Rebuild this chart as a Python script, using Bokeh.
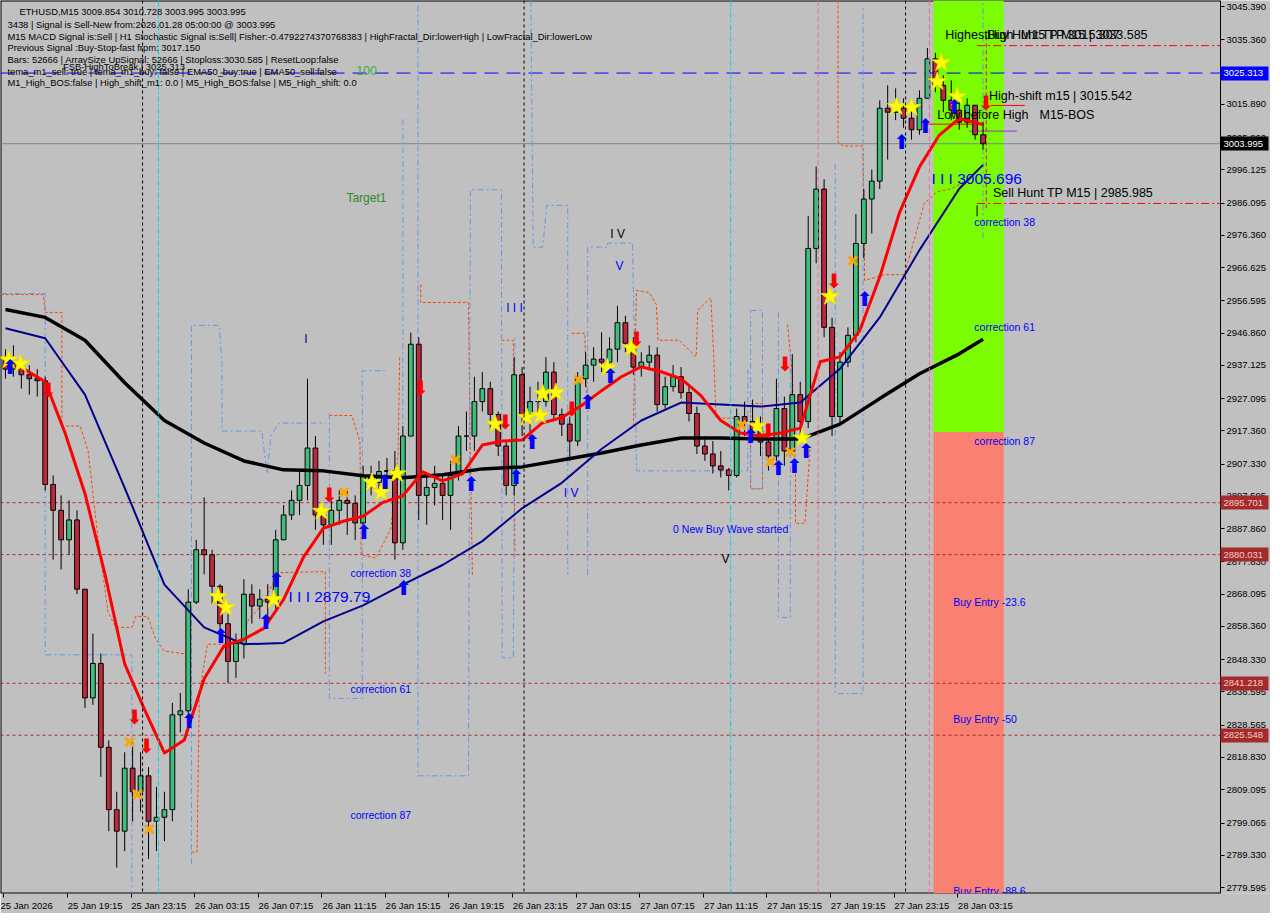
from bokeh.plotting import figure
from bokeh.models import (Range1d, FixedTicker, NumeralTickFormatter, Label, ColumnDataSource, Span,
                          LinearAxis)
from bokeh.core.properties import value
from bokeh.embed import file_html
from bokeh.resources import INLINE

FONT = "Liberation Sans"

# ---------------- data ----------------
first_open = 2939.0
closes = [
    2936.0, 2937.8, 2934.3, 2933.1, 2932.5, 2901.2, 2893.4, 2884.5, 2890.5, 2869.6,
    2836.8, 2847.2, 2821.9, 2803.1, 2796.6, 2815.6, 2808.5, 2813.3, 2799.6, 2800.8,
    2803.1, 2831.7, 2832.9, 2865.7, 2881.5, 2880.0, 2870.5, 2859.2, 2847.8, 2853.2,
    2868.1, 2864.5, 2866.6, 2865.7, 2884.5, 2892.0, 2896.4, 2900.9, 2912.2, 2892.0,
    2889.0, 2893.4, 2896.4, 2895.5, 2889.6, 2903.9, 2901.8, 2905.1, 2905.4, 2883.6,
    2915.8, 2943.5, 2897.9, 2900.3, 2901.5, 2897.9, 2903.9, 2915.8, 2915.8, 2926.2,
    2930.1, 2922.3, 2912.8, 2900.9, 2934.3, 2922.3, 2926.2, 2926.2, 2935.1, 2922.3,
    2919.4, 2914.3, 2933.1, 2937.2, 2939.0, 2938.1, 2942.0, 2950.0, 2943.8, 2936.6,
    2938.1, 2940.2, 2925.3, 2930.7, 2933.7, 2928.9, 2922.6, 2912.8, 2910.4, 2906.8,
    2905.6, 2903.9, 2921.7, 2920.2, 2917.3, 2914.0, 2909.8, 2924.1, 2911.3, 2928.3,
    2920.2, 2972.4, 2990.3, 2948.6, 2921.7, 2938.1, 2946.2, 2973.9, 2987.3, 2992.7,
    3014.7, 3013.5, 3014.7, 3011.7, 3008.2, 3017.7, 3029.6, 3021.6, 3017.1, 3014.1,
    3010.5, 3015.6, 3006.7, 3003.995]
highs = [
    2942.0, 2943.2, 2939.6, 2937.2, 2936.0, 2933.7, 2903.9, 2897.9, 2896.4, 2893.4,
    2869.6, 2856.2, 2850.2, 2824.0, 2808.5, 2820.4, 2823.4, 2820.4, 2815.9, 2810.0,
    2808.5, 2835.3, 2838.3, 2869.6, 2884.5, 2897.3, 2881.5, 2871.1, 2862.1, 2856.2,
    2872.6, 2871.1, 2869.6, 2871.1, 2887.5, 2895.0, 2899.4, 2905.4, 2933.1, 2915.8,
    2893.4, 2896.4, 2899.4, 2899.4, 2897.9, 2906.8, 2906.8, 2908.3, 2909.2, 2911.3,
    2918.8, 2947.0, 2945.6, 2903.9, 2906.8, 2903.9, 2908.3, 2918.8, 2923.2, 2933.7,
    2935.1, 2932.2, 2923.2, 2914.3, 2939.6, 2936.6, 2930.7, 2932.2, 2939.6, 2938.1,
    2924.1, 2921.7, 2935.1, 2941.1, 2942.6, 2947.1, 2945.6, 2955.1, 2952.1, 2945.6,
    2941.1, 2943.2, 2942.6, 2933.7, 2937.2, 2936.6, 2930.7, 2924.7, 2915.8, 2914.3,
    2911.3, 2906.2, 2924.1, 2926.2, 2926.8, 2921.7, 2915.8, 2933.1, 2927.7, 2940.5,
    2932.2, 2982.2, 2997.1, 2993.3, 2951.5, 2941.1, 2948.6, 2982.8, 2990.3, 2996.2,
    3017.1, 3021.6, 3020.7, 3017.7, 3014.7, 3020.1, 3032.9, 3031.4, 3024.6, 3023.1,
    3017.1, 3017.7, 3015.6, 3010.5]
lows = [
    2933.1, 2933.7, 2930.1, 2928.3, 2927.7, 2899.4, 2878.5, 2875.6, 2880.0, 2868.1,
    2833.8, 2834.7, 2813.0, 2796.6, 2785.6, 2790.6, 2799.6, 2802.5, 2788.2, 2790.6,
    2793.6, 2799.6, 2826.4, 2830.9, 2865.1, 2874.1, 2865.1, 2854.7, 2841.3, 2842.8,
    2848.7, 2859.2, 2860.7, 2860.7, 2863.6, 2884.5, 2890.5, 2892.0, 2896.4, 2887.5,
    2883.0, 2883.0, 2889.0, 2886.0, 2884.5, 2887.5, 2897.9, 2897.9, 2899.4, 2878.5,
    2881.5, 2915.8, 2890.5, 2889.0, 2894.9, 2890.5, 2887.5, 2902.4, 2911.3, 2911.3,
    2923.2, 2917.3, 2909.8, 2897.9, 2897.9, 2915.8, 2914.3, 2921.7, 2924.7, 2920.2,
    2915.8, 2908.3, 2912.8, 2930.7, 2932.2, 2935.1, 2936.0, 2938.1, 2941.1, 2934.3,
    2933.7, 2936.0, 2923.2, 2924.1, 2929.2, 2927.1, 2920.2, 2910.4, 2908.3, 2904.5,
    2903.3, 2899.4, 2903.3, 2915.8, 2914.3, 2909.8, 2905.4, 2908.3, 2906.8, 2911.3,
    2915.8, 2918.2, 2967.9, 2945.6, 2915.8, 2919.4, 2936.6, 2944.1, 2969.4, 2976.9,
    2990.3, 2999.2, 3011.1, 3008.8, 3005.2, 3006.7, 3017.7, 3019.5, 3013.5, 3011.1,
    3008.2, 3008.8, 3005.2, 3002.2]

ema_idx = [0, 5, 10, 15, 20, 25, 30, 35, 40, 45, 50, 55, 60, 65, 70, 75, 80, 85,
           90, 95, 100, 105, 110, 115, 120, 123]
ema_black = [2954.0, 2951.6, 2944.7, 2931.9, 2920.5, 2913.7, 2908.3, 2905.6, 2905.3,
             2903.8, 2903.2, 2904.1, 2905.9, 2906.5, 2908.6, 2910.7, 2913.1, 2915.2,
             2915.2, 2914.9, 2914.9, 2919.4, 2927.1, 2934.6, 2940.6, 2945.0]
ema_navy = [2948.3, 2945.3, 2928.3, 2900.2, 2871.0, 2858.1, 2853.0, 2853.4, 2859.9,
            2864.7, 2871.0, 2876.9, 2884.1, 2894.0, 2901.7, 2911.9, 2920.5, 2925.9,
            2925.3, 2924.7, 2925.9, 2936.1, 2951.6, 2971.9, 2990.4, 2997.6]
red_idx = [0, 2.5, 5, 7.5, 10, 12.5, 15, 17.5, 20, 22.5, 25, 27.5, 30, 32.5, 35, 37.5, 40,
           42.5, 45, 47.5, 50, 52.5, 55, 57.5, 60, 62.5, 65, 67.5, 70, 72.5, 75, 77.5, 80,
           82.5, 85, 87.5, 90, 92.5, 95, 97.5, 100, 102.5, 105, 107.5, 110, 112.5, 115,
           117.5, 120, 123]
ema_red = [2938.8, 2935.8, 2932.2, 2916.7, 2898.5, 2874.3, 2847.1, 2833.3, 2820.2, 2824.1,
           2842.6, 2852.5, 2854.5, 2857.8, 2866.5, 2879.3, 2888.0, 2890.1, 2891.6, 2895.8,
           2897.8, 2905.0, 2902.3, 2904.4, 2913.1, 2914.3, 2914.6, 2919.7, 2921.4, 2925.0,
           2929.5, 2933.7, 2936.7, 2935.2, 2933.1, 2928.0, 2920.5, 2916.7, 2915.8, 2916.7,
           2918.2, 2938.2, 2939.7, 2947.7, 2963.8, 2983.3, 2997.0, 3006.6, 3011.6, 3009.8]

# orange / blue step envelopes: [bar, price] pairs
orange_paths = [
    [(-0.6, 2958.5), (4.75, 2958.5), (5, 2953.1), (7.1, 2953.1), (7.1, 2918.8), (9.4, 2918.8),
     (10.4, 2911.3), (11.6, 2885.9), (12.9, 2862.6), (13.9, 2858.1), (15.9, 2858.1),
     (16.4, 2861.4), (17.9, 2861.4), (18.9, 2854.5), (20, 2850.9), (22.9, 2850.0)],
    [(23.4, 2790.3), (24.1, 2790.3), (24.4, 2838.1), (25.4, 2853.0), (29.4, 2853.0),
     (30.6, 2860.5), (32.1, 2864.4), (34.4, 2874.6), (40.25, 2874.9), (40.25, 2844.1)],
    [(40.75, 2922.0), (43.6, 2922.0), (44.6, 2914.0), (44.75, 2879.9), (46.6, 2879.0),
     (48.5, 2887.9), (49.4, 2910.7), (49.6, 2939.7)],
    [(52.25, 2961.5), (52.25, 2956.1), (58.25, 2956.1), (58.5, 2908.9), (58.75, 2873.9)],
    [(62.4, 2944.7), (63.9, 2944.7), (64.1, 2879.3)],
    [(71.25, 2946.8), (72.9, 2946.8), (73.1, 2927.7)],
    [(79, 2918.8), (79.4, 2959.7), (81, 2959.1), (81.9, 2955.5), (82.1, 2944.7),
     (84.75, 2944.7), (86.9, 2939.7), (87.1, 2953.7), (88.75, 2957.6), (89.1, 2940.9),
     (89.4, 2921.2), (92.75, 2921.2)],
    [(93.75, 2925.6), (95.25, 2925.6), (95.25, 2899.9), (93.75, 2899.9), (93.75, 2925.6)],
    [(98.4, 2949.5), (99, 2934.6), (99.4, 2904.7), (99.4, 2889.5), (100.6, 2889.5),
     (101.25, 2912.8)],
    [(104.75, 3047.2), (104.75, 3004.5), (105.4, 3003.3), (107.9, 3003.3), (108.1, 2962.7),
     (110.6, 2964.5), (113.1, 2964.5), (114.4, 2975.5), (115.6, 2986.0), (117.25, 2989.5),
     (119, 2990.4), (121, 2993.0)],
]
blue_paths = [
    [(-0.6, 2958.8), (5, 2958.8), (5, 2849.8), (15.9, 2849.8), (15.9, 2777.8)],
    [(23.4, 2786.7), (23.4, 2949.2), (26.9, 2949.2), (27.25, 2937.6), (27.25, 2917.3),
     (32.25, 2917.3), (32.9, 2904.4), (33.4, 2915.8), (34.4, 2919.7), (40.25, 2919.7)],
    [(40.75, 2922.6), (40.75, 2836.6), (44.9, 2836.6), (44.9, 2935.5), (47.75, 2935.5)],
    [(50, 3011.4), (50, 2919.4)],
    [(51.9, 3045.7), (51.9, 2813.3), (58.25, 2813.3), (58.5, 2990.1), (62.4, 2990.1),
     (62.5, 2848.9), (63.9, 2848.9), (64.1, 2945.9)],
    [(66.1, 3047.2), (66.4, 2972.8), (67.6, 2972.8), (68.1, 2985.4), (70.75, 2985.4),
     (70.75, 2873.9)],
    [(73.25, 2873.9), (73.25, 2972.8), (75.75, 2972.8), (75.75, 2974.0), (78.9, 2974.0),
     (79.4, 2905.3), (93.4, 2905.3), (93.4, 2935.8)],
    [(93.75, 2953.7), (95.25, 2953.7), (95.25, 2899.9), (93.75, 2899.9), (93.75, 2953.7)],
    [(97.25, 2953.1), (97.25, 2861.1), (98.75, 2861.1), (98.75, 2942.7)],
    [(104.4, 2997.9), (104.4, 2838.1), (107.9, 2838.1), (107.9, 3045.7)],
]

stars_x = [0.4, 1.9, 26.75, 27.75, 33.75, 39.75, 46.1, 47.25, 49.25, 61.6, 65.6, 67.25,
           67.6, 69.25, 75.75, 78.75, 94.6, 100.25, 103.75, 112.1, 114.0, 117.75, 117.25, 119.75]
stars_y = [2938.8, 2937.6, 2867.4, 2864.1, 2866.5, 2893.1, 2901.8, 2898.8, 2904.4, 2919.4,
           2921.4, 2922.0, 2928.6, 2928.9, 2936.4, 2942.4, 2918.8, 2915.2, 2957.9, 3015.2,
           3014.9, 3028.4, 3022.7, 3018.2]
up_x = [0.6, 23.1, 27.1, 32.75, 34.1, 45.1, 47.75, 50.1, 58.6, 64.25, 66.25, 73.25, 76.1,
        93.75, 97.25, 99.25, 100.75, 108.1, 112.75, 115.75, 119.4]
up_y = [2936.7, 2829.8, 2855.5, 2859.6, 2872.5, 2886.8, 2902.0, 2870.1, 2901.4, 2903.5,
        2914.0, 2926.2, 2934.0, 2915.8, 2906.2, 2906.8, 2911.3, 2957.0, 3004.5, 3009.3, 3015.2]
dn_x = [5.4, 16.25, 17.75, 40.75, 52.25, 62.9, 71.25, 79.4, 96.0, 98.1, 104.25, 123.4]
dn_y = [2929.8, 2831.0, 2822.3, 2897.9, 2930.4, 2919.9, 2924.1, 2945.0, 2917.3, 2937.6,
        2962.7, 3016.4]
x_x = [15.6, 16.6, 18.1, 42.6, 56.6, 72.1, 92.6, 96.25, 98.75, 106.6]
x_y = [2823.5, 2807.7, 2797.2, 2898.8, 2908.6, 2932.8, 2919.1, 2908.0, 2911.0, 2968.7]

date_labels = ["25 Jan 2026", "25 Jan 19:15", "25 Jan 23:15", "26 Jan 03:15", "26 Jan 07:15",
               "26 Jan 11:15", "26 Jan 15:15", "26 Jan 19:15", "26 Jan 23:15", "27 Jan 03:15",
               "27 Jan 07:15", "27 Jan 11:15", "27 Jan 15:15", "27 Jan 19:15", "27 Jan 23:15",
               "28 Jan 03:15"]
price_ticks = [3045.390, 3035.360, 3025.625, 3015.890, 3005.860, 2996.125, 2986.095, 2976.360,
               2966.625, 2956.595, 2946.860, 2937.125, 2927.095, 2917.360, 2907.330, 2897.595,
               2887.860, 2877.830, 2868.095, 2858.360, 2848.330, 2838.595, 2828.565, 2818.830,
               2809.095, 2799.065, 2789.330, 2779.595]

level_blue = 3025.313
level_last = 3003.995
levels_brown = [2895.701, 2880.031, 2841.218, 2825.548]
tp_high = 3033.585
tp_low = 2985.985
vlines_black = [17.25, 65.25, 113.25]
vlines_cyan = [19.25, 91.25]
vlines_pink = [102.25, 116.25]
zone_left, zone_right = 116.75, 125.6
zone_mid = 2917.0

# ---------------- figure ----------------
FW_PLOT = 1220          # width of the chart area (left of the price scale)
FW = 1270               # frame also holds the price scale strip
FH = 893
X0, X_EDGE = -0.625, 152.875
px_per_bar = FW_PLOT / (X_EDGE - X0)
X1 = X_EDGE + (FW - FW_PLOT) / px_per_bar
Y0, Y1 = 2777.8, 3047.2

p = figure(frame_width=FW, frame_height=FH, x_range=Range1d(X0, X1), y_range=Range1d(Y0, Y1),
           y_axis_location=None, output_backend="svg", toolbar_location=None,
           background_fill_color="#C0C0C0", border_fill_color="#C0C0C0",
           min_border_left=0, min_border_top=0, min_border_right=0, min_border_bottom=0)
p.grid.visible = False
p.outline_line_color = None

# price scale pinned at the chart's right edge
yax = LinearAxis(fixed_location=X_EDGE, ticker=FixedTicker(ticks=price_ticks),
                 formatter=NumeralTickFormatter(format="0.000"))
p.add_layout(yax, "right")

xax = p.xaxis[0]
xticks = [8 * k - 0.2 for k in range(len(date_labels))]
xax.ticker = FixedTicker(ticks=xticks)
# pad on the left with no-break spaces so each label starts at its tick (MT4 style)
xax.major_label_overrides = {t: ("\u00a0" * 21 + lab if k > 0 else lab)
                             for k, (t, lab) in enumerate(zip(xticks, date_labels))}
for ax in (xax, yax):
    ax.axis_line_color = "black"
    ax.major_tick_line_color = "black"
    ax.major_tick_out = 4
    ax.major_tick_in = 0
    ax.minor_tick_out = 0
    ax.minor_tick_in = 0
    ax.major_label_text_font = FONT
    ax.major_label_text_font_size = "9.5px"
    ax.major_label_text_color = "black"
    ax.major_label_standoff = 2
xax.axis_line_color = None

# chart border (top / left / bottom), stopping at the price scale
p.line([X0, X_EDGE], [Y1, Y1], line_color="black", line_width=2)
p.line([X0, X0], [Y0, Y1], line_color="black", line_width=2)
p.line([X0, X_EDGE], [Y0, Y0], line_color="black", line_width=2)

# zones
p.quad(left=[zone_left], right=[zone_right], top=[Y1], bottom=[zone_mid], fill_color="#7CFC00",
       line_color=None)
p.quad(left=[zone_left], right=[zone_right], top=[zone_mid], bottom=[Y0], fill_color="#FA8072",
       line_color=None)

# verticals
for v in vlines_black:
    p.add_layout(Span(location=v, dimension="height", line_color="black", line_dash="3 3", line_width=1))
for v in vlines_cyan:
    p.add_layout(Span(location=v, dimension="height", line_color="#00D8E0", line_dash="6 2 2 2", line_width=1))
for v in vlines_pink:
    p.add_layout(Span(location=v, dimension="height", line_color="#F06AA0", line_dash="5 3", line_width=1))

# horizontals (stop at the price scale)
p.line([X0, X_EDGE], [level_blue] * 2, line_color="#0000FF", line_dash="14 8", line_width=1)
p.line([X0, X_EDGE], [level_last] * 2, line_color="#778899", line_width=1)
for lv in levels_brown:
    p.line([X0, X_EDGE], [lv, lv], line_color="#A52A2A", line_dash="3 3", line_width=1)
p.line([122.25, X_EDGE], [tp_high, tp_high], line_color="red", line_dash="8 3 2 3", line_width=1)
p.line([122.25, X_EDGE], [tp_low, tp_low], line_color="red", line_dash="8 3 2 3", line_width=1)

# envelopes
p.multi_line([[a for a, b in pth] for pth in orange_paths], [[b for a, b in pth] for pth in orange_paths],
             line_color="#FF4500", line_dash="3 2", line_width=1)
p.multi_line([[a for a, b in pth] for pth in blue_paths], [[b for a, b in pth] for pth in blue_paths],
             line_color="#6495ED", line_dash="6 3 2 3", line_width=1)

# small marks at right
p.line([123.0, 123.0], [2975.5, Y1], line_color="#6495ED", line_dash="6 3 2 3", line_width=1)
p.line([123.4, 123.4], [2984.5, 3036.7], line_color="red", line_dash="4 3", line_width=1)
p.line([115.4, 123.1], [3009.9, 3009.9], line_color="red", line_width=1)
p.line([124.0, 128.25], [3015.542, 3015.542], line_color="red", line_width=1)
p.line([121.25, 127.25], [3007.8, 3007.8], line_color="#9932CC", line_width=1)
p.line([122.25, 122.25], [2982.1, 2985.4], line_color="black", line_width=1)

# candles
opens = [first_open] + closes[:-1]
idx = list(range(len(closes)))
src = ColumnDataSource(dict(
    x=idx, h=highs, l=lows,
    top=[max(o, c) for o, c in zip(opens, closes)],
    bot=[min(o, c) for o, c in zip(opens, closes)],
    col=["#3DBE7A" if c >= o else "#BE283C" for o, c in zip(opens, closes)]))
p.segment(x0="x", y0="h", x1="x", y1="l", source=src, line_color="black", line_width=1)
p.vbar(x="x", width=0.6, top="top", bottom="bot", source=src, fill_color="col",
       line_color="black", line_width=1)

# moving averages
p.line(ema_idx, ema_black, line_color="black", line_width=3.5)
p.line(ema_idx, ema_navy, line_color="#00008B", line_width=2)
p.line(red_idx, ema_red, line_color="#FF0000", line_width=3, line_join="round")

# signals
p.scatter(x_x, x_y, marker="x", size=12, line_color="#FFA500", line_width=3)
p.scatter(stars_x, stars_y, marker="star", size=19, fill_color="#FFFF00", line_color="#F0E000")
p.text(up_x, up_y, text=["⬆"] * len(up_x), text_color="#0000FF", text_font=value("DejaVu Sans"),
       text_font_size="20px", text_align="center", text_baseline="middle")
p.text(dn_x, dn_y, text=["⬇"] * len(dn_x), text_color="#FF0000", text_font=value("DejaVu Sans"),
       text_font_size="20px", text_align="center", text_baseline="middle")

# chart texts
texts = [
    ("Target1", 42.9, 2987.5, "#2E8B2E", "12px"),
    ("I V", 76.1, 2976.7, "black", "12px"),
    ("V", 76.75, 2967.2, "#0000FF", "12px"),
    ("I I I", 63.0, 2954.3, "#0000FF", "12px"),
    ("I", 37.6, 2945.0, "#00008B", "12px"),
    ("I V", 70.25, 2898.5, "#0000FF", "12px"),
    ("V", 90.1, 2878.7, "black", "12px"),
    ("0 New Buy Wave started", 84.0, 2887.7, "#0000FF", "10.5px"),
    ("I I I 2879.79", 35.6, 2867.4, "#0000FF", "15.5px"),
    ("correction 38", 43.4, 2874.6, "#0000FF", "10.5px"),
    ("correction 61", 43.4, 2839.6, "#0000FF", "10.5px"),
    ("correction 87", 43.4, 2801.4, "#0000FF", "10.5px"),
    ("correction 38", 121.9, 2980.3, "#0000FF", "10.5px"),
    ("correction 61", 121.9, 2948.6, "#0000FF", "10.5px"),
    ("correction 87", 121.9, 2914.3, "#0000FF", "10.5px"),
    ("Buy Entry -23.6", 119.25, 2865.6, "#0000FF", "10.5px"),
    ("Buy Entry -50", 119.25, 2830.4, "#0000FF", "10.5px"),
    ("Buy Entry -88.6", 119.25, 2778.6, "#0000FF", "10.5px"),
    ("I I I 3005.696", 116.5, 2993.4, "#0000FF", "15.5px"),
    ("Sell Hunt TP M15 | 2985.985", 124.25, 2989.2, "black", "12.5px"),
    ("High-shift m15 | 3015.542", 123.75, 3018.5, "black", "12.5px"),
    ("Low before High", 117.25, 3012.8, "black", "12.5px"),
    ("M15-BOS", 130.1, 3012.8, "black", "12.5px"),
    ("HighestHigh", 118.25, 3036.7, "black", "12.5px"),
    ("Buy Hunt TP M15 | 3033.585", 123.5, 3036.7, "black", "12.5px"),
    ("M15 TP 3015.307", 127.75, 3036.7, "black", "12.5px"),
]
for t, x, y, c, s in texts:
    p.text([x], [y], text=[t], text_color=c, text_font=value(FONT), text_font_size=s,
           text_align="left", text_baseline="middle")

# info block (screen overlay, reference pixel positions)
def sx(xr):
    return xr * FW_PLOT / 1228.0

def sy(yr):
    return FH - yr * FH / 902.0

info = [
    (19, 11, "ETHUSD,M15  3009.854 3010.728 3003.995 3003.995", "black", "9.4px"),
    (7, 24, "3438 | Signal is Sell-New from:2026.01.28 05:00:00 @ 3003.995", "black", "9.4px"),
    (7, 36, "M15 MACD Signal is:Sell | H1 Stochastic Signal is:Sell| Fisher:-0.4792274370768383 | HighFractal_Dir:lowerHigh | LowFractal_Dir:lowerLow", "black", "9.4px"),
    (7, 47, "Previous Signal :Buy-Stop-fast frpm: 3017.150", "black", "9.4px"),
    (7, 60, "Bars: 52666 | ArraySize UpSignal: 52666 | Stoploss:3030.585 | ResetLoop:false", "black", "9.4px"),
    (7, 72, "tema_m1_sell: true | tema_m1_buy: false | EMA50_buy:true | EMA50_sell:false", "black", "9.4px"),
    (7, 83, "M1_High_BOS:false | High_shift_m1: 0.0 | M5_High_BOS:false | M5_High_shift: 0.0", "black", "9.4px"),
    (63, 67, "FSB-HighToBreak | 3025.313", "black", "9.4px"),
    (358, 71, "100", "#3CB043", "12.5px"),
]
for xr, yr, t, c, s in info:
    p.add_layout(Label(x=sx(xr), y=sy(yr), x_units="screen", y_units="screen", text=t,
                       text_color=c, text_font=FONT, text_font_size=s, text_baseline="middle"))

# price boxes on the price scale: extra axes pinned at the same edge,
# with thick coloured ticks acting as the box backgrounds
def box_axis(levels, bg, fg):
    ax = LinearAxis(fixed_location=X_EDGE, ticker=FixedTicker(ticks=levels),
                    formatter=NumeralTickFormatter(format="0.000"),
                    axis_line_color=None, major_tick_in=0, major_tick_out=48,
                    major_tick_line_width=14, major_tick_line_color=bg,
                    minor_tick_in=0, minor_tick_out=0, major_label_standoff=-45,
                    major_label_text_color=fg, major_label_text_font=FONT,
                    major_label_text_font_size="9.5px")
    p.add_layout(ax, "right")

box_axis([level_blue], "#0000FF", "white")
box_axis([level_last], "black", "white")
box_axis(levels_brown, "#A52A2A", "#F4D0D0")

open("out.html", "w").write(file_html(p, INLINE))
